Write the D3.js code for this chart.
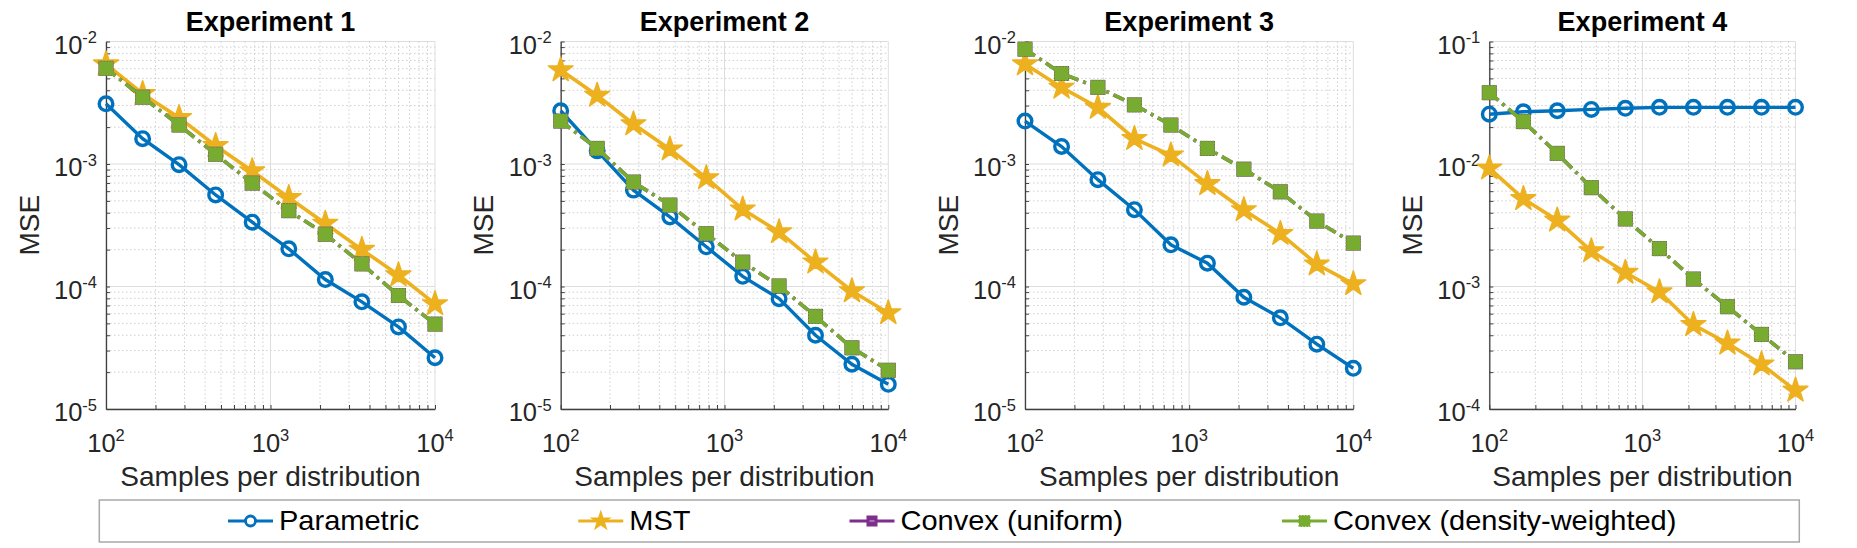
<!DOCTYPE html>
<html>
<head>
<meta charset="utf-8">
<script src="https://cdn.jsdelivr.net/npm/d3@7"></script>
<style>
  body { margin: 0; background: #fff; }
  text { font-family: "Liberation Sans", Arial, Helvetica, sans-serif; }
</style>
</head>
<body>
<svg id="chart" width="1857" height="548"></svg>
<script>
// data
var samples = [100, 167, 278, 464, 774, 1292, 2154, 3594, 5995, 10000];
var titles = ["Experiment 1", "Experiment 2", "Experiment 3", "Experiment 4"];
var xTickExp = [2, 3, 4];
var yTickExp = [[-5, -4, -3, -2], [-5, -4, -3, -2], [-5, -4, -3, -2], [-4, -3, -2, -1]];
var seriesNames = ["Parametric", "MST", "Convex (uniform)", "Convex (density-weighted)"];

var parametric = [
  [3.10e-3, 1.61e-3, 9.87e-4, 5.59e-4, 3.35e-4, 2.03e-4, 1.14e-4, 7.5e-5, 4.68e-5, 2.62e-5],
  [2.72e-3, 1.28e-3, 6.12e-4, 3.70e-4, 2.11e-4, 1.21e-4, 7.96e-5, 4.0e-5, 2.32e-5, 1.59e-5],
  [2.24e-3, 1.39e-3, 7.45e-4, 4.24e-4, 2.19e-4, 1.55e-4, 8.17e-5, 5.55e-5, 3.38e-5, 2.15e-5],
  [2.55e-2, 2.67e-2, 2.72e-2, 2.79e-2, 2.85e-2, 2.90e-2, 2.90e-2, 2.90e-2, 2.90e-2, 2.90e-2]
];
var mst = [
  [6.54e-3, 3.75e-3, 2.39e-3, 1.41e-3, 8.77e-4, 5.30e-4, 3.27e-4, 2.0e-4, 1.24e-4, 7.21e-5],
  [5.85e-3, 3.63e-3, 2.12e-3, 1.32e-3, 7.70e-4, 4.27e-4, 2.79e-4, 1.58e-4, 9.19e-5, 6.08e-5],
  [6.54e-3, 4.22e-3, 2.89e-3, 1.61e-3, 1.18e-3, 6.89e-4, 4.22e-4, 2.70e-4, 1.52e-4, 1.05e-4],
  [9.24e-3, 5.20e-3, 3.47e-3, 1.95e-3, 1.30e-3, 9.01e-4, 4.87e-4, 3.44e-4, 2.32e-4, 1.42e-4]
];
var convexUniform = [
  [6.04e-3, 3.51e-3, 2.08e-3, 1.20e-3, 6.98e-4, 4.16e-4, 2.67e-4, 1.53e-4, 8.44e-5, 4.93e-5],
  [2.24e-3, 1.34e-3, 7.12e-4, 4.62e-4, 2.70e-4, 1.58e-4, 1.01e-4, 5.70e-5, 3.16e-5, 2.07e-5],
  [8.66e-3, 5.48e-3, 4.22e-3, 3.04e-3, 2.08e-3, 1.34e-3, 9.07e-4, 5.93e-4, 3.42e-4, 2.26e-4],
  [3.82e-2, 2.22e-2, 1.22e-2, 6.41e-3, 3.56e-3, 2.04e-3, 1.15e-3, 6.84e-4, 4.06e-4, 2.43e-4]
];
var convexWeighted = [
  [6.04e-3, 3.51e-3, 2.08e-3, 1.20e-3, 6.98e-4, 4.16e-4, 2.67e-4, 1.53e-4, 8.44e-5, 4.93e-5],
  [2.24e-3, 1.34e-3, 7.12e-4, 4.62e-4, 2.70e-4, 1.58e-4, 1.01e-4, 5.70e-5, 3.16e-5, 2.07e-5],
  [8.66e-3, 5.48e-3, 4.22e-3, 3.04e-3, 2.08e-3, 1.34e-3, 9.07e-4, 5.93e-4, 3.42e-4, 2.26e-4],
  [3.82e-2, 2.22e-2, 1.22e-2, 6.41e-3, 3.56e-3, 2.04e-3, 1.15e-3, 6.84e-4, 4.06e-4, 2.43e-4]
];

// layout
var plotTop = 41.5, plotBottom = 409;
var panelX = [[106, 435], [560.7, 888.3], [1025, 1353.3], [1489.3, 1795.5]];
var colors = { blue: "#0072BD", yellow: "#EDB120", purple: "#7E2F8E", green: "#77AC30" };
var axisColor = "#404040", textColor = "#262626";
var dashDot = "12,5,3,5";

var svg = d3.select("#chart");
svg.append("rect").attr("width", 1857).attr("height", 548).attr("fill", "#fff");

function isMajor(v) {
  var l = Math.log10(v);
  return Math.abs(l - Math.round(l)) < 1e-6;
}

// draws marker symbols of one series
function drawMarkers(g, pts, kind, x, y) {
  if (kind === "circle") {
    g.selectAll(null).data(pts).enter().append("circle")
      .attr("cx", function (d) { return x(d[0]); })
      .attr("cy", function (d) { return y(d[1]); })
      .attr("r", 6.8)
      .attr("fill", "none")
      .attr("stroke", colors.blue)
      .attr("stroke-width", 3.4);
  } else if (kind === "star") {
    g.selectAll(null).data(pts).enter().append("path")
      .attr("d", d3.symbol().type(d3.symbolStar).size(190))
      .attr("transform", function (d) { return "translate(" + x(d[0]) + "," + y(d[1]) + ")"; })
      .attr("fill", colors.yellow)
      .attr("stroke", colors.yellow)
      .attr("stroke-width", 1.5)
      .attr("stroke-linejoin", "round");
  } else if (kind === "squareU") {
    g.selectAll(null).data(pts).enter().append("rect")
      .attr("x", function (d) { return x(d[0]) - 7.5; })
      .attr("y", function (d) { return y(d[1]) - 7.5; })
      .attr("width", 15).attr("height", 15)
      .attr("fill", colors.purple);
  } else {
    g.selectAll(null).data(pts).enter().append("rect")
      .attr("x", function (d) { return x(d[0]) - 7; })
      .attr("y", function (d) { return y(d[1]) - 7; })
      .attr("width", 14).attr("height", 14)
      .attr("fill", colors.green)
      .attr("stroke", colors.green)
      .attr("stroke-width", 1.2)
      .attr("stroke-dasharray", "1.5,1.5");
  }
}

panelX.forEach(function (px, i) {
  var x = d3.scaleLog().domain([100, 10000]).range(px);
  var yd = yTickExp[i];
  var y = d3.scaleLog()
    .domain([Math.pow(10, yd[0]), Math.pow(10, yd[yd.length - 1])])
    .range([plotBottom, plotTop]);
  var g = svg.append("g");
  var xt = x.ticks(), yt = y.ticks();

  // grid
  g.selectAll(".xg").data(xt).enter().append("line")
    .attr("x1", function (d) { return x(d); }).attr("x2", function (d) { return x(d); })
    .attr("y1", plotTop).attr("y2", plotBottom)
    .attr("stroke", function (d) { return isMajor(d) ? "#dedede" : "#cfcfcf"; })
    .attr("stroke-width", 1)
    .attr("stroke-dasharray", function (d) { return isMajor(d) ? null : "1.5,2.5"; });
  g.selectAll(".yg").data(yt).enter().append("line")
    .attr("y1", function (d) { return y(d); }).attr("y2", function (d) { return y(d); })
    .attr("x1", px[0]).attr("x2", px[1])
    .attr("stroke", function (d) { return isMajor(d) ? "#dedede" : "#cfcfcf"; })
    .attr("stroke-width", 1)
    .attr("stroke-dasharray", function (d) { return isMajor(d) ? null : "1.5,2.5"; });

  // axes (left + bottom only, ticks inward)
  var xa = g.append("g").attr("transform", "translate(0," + plotBottom + ")")
    .call(d3.axisBottom(x).tickValues(xt).tickSizeInner(-4).tickSizeOuter(0).tickFormat(""));
  var ya = g.append("g").attr("transform", "translate(" + px[0] + ",0)")
    .call(d3.axisLeft(y).tickValues(yt).tickSizeInner(-4).tickSizeOuter(0).tickFormat(""));
  [xa, ya].forEach(function (a) {
    a.select(".domain").attr("stroke", axisColor).attr("stroke-width", 1.3);
    a.selectAll(".tick line").attr("stroke", axisColor);
  });

  // tick labels 10^k
  var xl = g.selectAll(".xl").data(xTickExp).enter().append("text")
    .attr("x", function (d) { return x(Math.pow(10, d)); })
    .attr("y", 451.7)
    .attr("text-anchor", "middle")
    .attr("fill", textColor)
    .style("font-size", "25.5px");
  xl.append("tspan").text("10");
  xl.append("tspan").attr("dy", -11).style("font-size", "16.5px").text(function (d) { return d; });

  var yl = g.selectAll(".yl").data(yd).enter().append("text")
    .attr("x", px[0] - 9)
    .attr("y", function (d) { return y(Math.pow(10, d)) + 12.3; })
    .attr("text-anchor", "end")
    .attr("fill", textColor)
    .style("font-size", "25.5px");
  yl.append("tspan").text("10");
  yl.append("tspan").attr("dy", -10.6).style("font-size", "16.5px").text(function (d) { return d; });

  // titles and labels
  var cx = (px[0] + px[1]) / 2;
  g.append("text").attr("x", cx).attr("y", 30.7)
    .attr("text-anchor", "middle").style("font-size", "27px").style("font-weight", "bold")
    .attr("fill", "#000").text(titles[i]);
  g.append("text").attr("x", cx).attr("y", 486)
    .attr("text-anchor", "middle").style("font-size", "28px")
    .attr("fill", textColor).text("Samples per distribution");
  g.append("text")
    .attr("transform", "translate(" + (px[0] - 77.5) + "," + ((plotTop + plotBottom) / 2) + ") rotate(-90)")
    .attr("text-anchor", "middle").attr("dy", "0.36em").style("font-size", "28px")
    .attr("fill", textColor).text("MSE");

  // series
  var line = d3.line()
    .x(function (d) { return x(d[0]); })
    .y(function (d) { return y(d[1]); });
  var series = [
    { vals: parametric[i], color: colors.blue, width: 3.4, dash: null, marker: "circle" },
    { vals: mst[i], color: colors.yellow, width: 3.6, dash: null, marker: "star" },
    { vals: convexUniform[i], color: colors.purple, width: 3.6, dash: dashDot, marker: "squareU" },
    { vals: convexWeighted[i], color: colors.green, width: 3.6, dash: dashDot, marker: "squareW" }
  ];
  series.forEach(function (s) {
    var pts = samples.map(function (n, k) { return [n, s.vals[k]]; });
    var sg = g.append("g");
    sg.append("path").datum(pts)
      .attr("d", line)
      .attr("fill", "none")
      .attr("stroke", s.color)
      .attr("stroke-width", s.width)
      .attr("stroke-dasharray", s.dash);
    drawMarkers(sg, pts, s.marker, x, y);
  });
});

// legend
var legY = 521, legScale = 1.075;
svg.append("rect").attr("x", 99.3).attr("y", 500).attr("width", 1700).attr("height", 42)
  .attr("fill", "#fff").attr("stroke", "#a8a8a8").attr("stroke-width", 1.5);

var legendStyle = [
  { color: colors.blue, marker: "circle" },
  { color: colors.yellow, marker: "star" },
  { color: colors.purple, marker: "squareU" },
  { color: colors.green, marker: "squareW" }
];
var lx = 228;
seriesNames.forEach(function (name, k) {
  var st = legendStyle[k];
  var lg = svg.append("g");
  lg.append("line").attr("x1", lx).attr("x2", lx + 45).attr("y1", legY).attr("y2", legY)
    .attr("stroke", st.color).attr("stroke-width", 3.2);
  var mx = lx + 22.5;
  if (st.marker === "circle") {
    lg.append("circle").attr("cx", mx).attr("cy", legY).attr("r", 5)
      .attr("fill", "#fff").attr("stroke", st.color).attr("stroke-width", 2.8);
  } else if (st.marker === "star") {
    lg.append("path").attr("d", d3.symbol().type(d3.symbolStar).size(150))
      .attr("transform", "translate(" + mx + "," + legY + ")").attr("fill", st.color);
  } else if (st.marker === "squareU") {
    lg.append("rect").attr("x", mx - 5.5).attr("y", legY - 5.5).attr("width", 11).attr("height", 11)
      .attr("fill", st.color);
    lg.append("line").attr("x1", mx - 2.5).attr("x2", mx + 2.5).attr("y1", legY).attr("y2", legY)
      .attr("stroke", "#c9a0d2").attr("stroke-width", 1.2);
  } else {
    lg.append("rect").attr("x", mx - 5.5).attr("y", legY - 5.5).attr("width", 11).attr("height", 11)
      .attr("fill", st.color).attr("stroke", st.color).attr("stroke-width", 1.2)
      .attr("stroke-dasharray", "1.5,1.5");
  }
  var tx = lx + 51;
  var t = lg.append("text")
    .attr("transform", "translate(" + tx + "," + 530 + ") scale(" + legScale + ",1)")
    .style("font-size", "27px").attr("fill", "#000").text(name);
  var w = t.node().getComputedTextLength() * legScale;
  lx = tx + w + 159;
});
</script>
</body>
</html>
